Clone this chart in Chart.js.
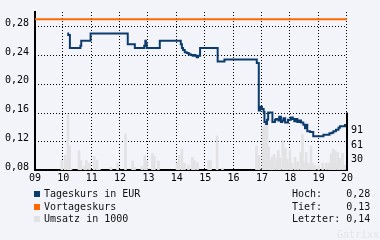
<!DOCTYPE html>
<html>
<head>
<meta charset="utf-8">
<script src="https://cdn.jsdelivr.net/npm/chart.js@4.4.1/dist/chart.umd.min.js"></script>
<style>
body { margin: 0; background: #f3f4f9; }
#wrap { position: relative; width: 380px; height: 240px; font-family: "DejaVu Sans Mono", monospace; font-size: 10px; color: #111; }
#c { position: absolute; left: 0; top: 0; }
.box { position: absolute; top: 188px; line-height: 12.7px; white-space: pre; }
#legend { left: 34px; }
#legend i { display: inline-block; width: 6px; height: 6px; margin-right: 4px; vertical-align: 0px; }
#stats { left: 292px; }
#mark { position: absolute; left: 337px; top: 229px; color: #e2e4ec; }
</style>
</head>
<body>
<div id="wrap">
  <canvas id="c" width="380" height="240"></canvas>
  <div class="box" id="legend"></div>
  <div class="box" id="stats"></div>
  <div id="mark">Gatrixx</div>
</div>
<script>
// x axis: hours of the trading day
const hourTicks = [9, 10, 11, 12, 13, 14, 15, 16, 17, 18, 19, 20];
const hourLabels = ['09', '10', '11', '12', '13', '14', '15', '16', '17', '18', '19', '20'];
const priceTicks = [0.08, 0.10, 0.12, 0.14, 0.16, 0.18, 0.20, 0.22, 0.24, 0.26, 0.28, 0.30];
const volTicks = [30.4, 60.7, 91.1];

// Tageskurs (time in hours, price in EUR)
const priceTimes = [10.14, 10.17, 10.23, 10.60, 10.63, 10.96, 12.27, 12.52, 12.85, 12.89, 12.91, 12.94, 13.40,
  14.14, 14.18, 14.22, 14.28, 14.35, 14.42, 14.49, 14.56, 14.61, 14.65, 14.70, 14.75, 14.82, 15.44, 15.68,
  16.82, 16.89, 16.93, 17.00, 17.06, 17.09, 17.15, 17.18, 17.22, 17.37, 17.46, 17.50, 17.58, 17.61, 17.67,
  17.72, 17.76, 17.82, 17.92, 18.02, 18.09, 18.14, 18.19, 18.25, 18.32, 18.38, 18.46, 18.52, 18.56, 18.60,
  18.70, 18.81, 19.17, 19.38, 19.46, 19.52, 19.61, 19.70, 19.75, 19.93];
const priceValues = [0.270, 0.268, 0.250, 0.253, 0.260, 0.270, 0.255, 0.250, 0.253, 0.260, 0.255, 0.250, 0.260,
  0.255, 0.250, 0.247, 0.244, 0.243, 0.241, 0.240, 0.239, 0.240, 0.239, 0.237, 0.239, 0.250, 0.231, 0.234,
  0.229, 0.163, 0.168, 0.165, 0.161, 0.147, 0.144, 0.150, 0.160, 0.147, 0.150, 0.151, 0.149, 0.154, 0.147,
  0.149, 0.152, 0.146, 0.150, 0.153, 0.151, 0.148, 0.151, 0.147, 0.149, 0.146, 0.143, 0.138, 0.143, 0.134,
  0.133, 0.127, 0.129, 0.131, 0.132, 0.134, 0.136, 0.139, 0.141, 0.144];

// Vortageskurs
const prevClose = 0.29;

// Umsatz in 1000
const volTimes = [9.95, 10.07, 10.16, 10.22, 10.27, 10.55, 10.62, 10.75, 10.81, 10.92, 11.09, 11.19, 11.27, 11.68,
  11.91, 12.19, 12.44, 12.51, 12.77, 12.87, 12.93, 13.14, 13.21, 13.35, 14.01, 14.08, 14.18, 14.27, 14.41,
  14.55, 14.62, 14.73, 15.12, 15.19, 15.42, 15.61, 16.81, 16.90, 17.04, 17.11, 17.18, 17.24, 17.29, 17.36,
  17.43, 17.52, 17.58, 17.64, 17.74, 17.83, 17.90, 17.99, 18.06, 18.17, 18.26, 18.37, 18.43, 18.50, 18.56,
  18.64, 18.73, 18.80, 18.87, 19.00, 19.14, 19.26, 19.35, 19.44, 19.51, 19.58, 19.67, 19.74, 19.84, 19.91];
const volValues = [20, 31, 117, 51, 4, 41, 20, 8, 20, 14, 29, 21, 2, 6,
  15, 76, 19, 6, 8, 30, 20, 35, 29, 19, 15, 31, 45, 14, 10,
  27, 20, 16, 20, 20, 72, 4, 51, 31, 90, 104, 96, 49, 20, 27,
  33, 25, 41, 25, 63, 46, 23, 42, 15, 27, 17, 37, 75, 17, 37,
  14, 51, 14, 10, 10, 15, 14, 14, 34, 44, 41, 37, 25, 35, 10];

const stats = [['Hoch:', '0,28'], ['Tief:', '0,13'], ['Letzter:', '0,14']];

const fmt = v => v.toFixed(2).replace('.', ',');
const FONT = { family: 'DejaVu Sans Mono', size: 10 };

// dotted grid (1px dots, 2px gaps) drawn from the scales' ticks
const dottedGrid = {
    id: 'dottedGrid',
    beforeDatasetsDraw(chart) {
        const ctx = chart.ctx, a = chart.chartArea;
        ctx.save();
        ctx.strokeStyle = '#000';
        ctx.lineWidth = 1;
        ctx.setLineDash([1, 2]);
        ctx.beginPath();
        chart.scales.x.ticks.forEach((t, i) => {
            if (i === 0) return;
            const x = Math.round(chart.scales.x.getPixelForValue(t.value)) - 0.5;
            ctx.moveTo(x, a.top);
            ctx.lineTo(x, a.bottom);
        });
        chart.scales.y.ticks.forEach((t, i) => {
            if (i === 0) return;
            const y = Math.round(chart.scales.y.getPixelForValue(t.value)) + 0.5;
            ctx.moveTo(a.left, y);
            ctx.lineTo(a.right, y);
        });
        ctx.stroke();
        ctx.restore();
    },
    // short black axis line for the volume scale
    afterDraw(chart) {
        const ctx = chart.ctx, vol = chart.scales.vol, a = chart.chartArea;
        ctx.save();
        ctx.strokeStyle = '#000';
        ctx.lineWidth = 2;
        ctx.beginPath();
        ctx.moveTo(a.right, vol.getPixelForValue(volTicks[2] + 30.4));
        ctx.lineTo(a.right, a.bottom + 1);
        ctx.stroke();
        ctx.restore();
    }
};

const chart = new Chart(document.getElementById('c'), {
    type: 'line',
    data: {
        datasets: [{
            label: 'Tageskurs in EUR',
            data: priceTimes.map((t, i) => ({ x: t, y: priceValues[i] })),
            borderColor: '#0b3c6d',
            backgroundColor: '#0b3c6d',
            borderWidth: 2,
            stepped: true,
            pointRadius: 0,
            yAxisID: 'y',
            order: 0
        }, {
            label: 'Vortageskurs',
            data: [{ x: hourTicks[0], y: prevClose }, { x: hourTicks[hourTicks.length - 1], y: prevClose }],
            borderColor: '#ff6a00',
            backgroundColor: '#ff6a00',
            borderWidth: 2,
            pointRadius: 0,
            yAxisID: 'y',
            order: 1
        }, {
            type: 'bar',
            label: 'Umsatz in 1000',
            data: volTimes.map((t, i) => ({ x: t, y: volValues[i] })),
            backgroundColor: '#e2e2e4',
            barThickness: 2,
            yAxisID: 'vol',
            order: 2
        }]
    },
    options: {
        responsive: false,
        animation: false,
        layout: { padding: { top: 7, left: 0, right: 0, bottom: 0 } },
        plugins: { legend: { display: false }, tooltip: { enabled: false } },
        scales: {
            x: {
                type: 'linear',
                min: 9, max: 20,
                offset: false,
                afterBuildTicks: s => { s.ticks = hourTicks.map(v => ({ value: v })); },
                afterFit: s => { s.height = 70; },
                grid: { display: false, drawTicks: false, offset: false },
                border: { display: true, color: '#000', width: 2 },
                ticks: { color: '#000', font: FONT, padding: 2, maxRotation: 0, autoSkip: false,
                    callback: v => hourLabels[hourTicks.indexOf(v)] }
            },
            y: {
                position: 'left',
                min: 0.08, max: 0.30,
                afterBuildTicks: s => { s.ticks = priceTicks.map(v => ({ value: v })); },
                afterFit: s => { s.width = 35; },
                grid: { display: false, drawTicks: false },
                border: { display: true, color: '#000', width: 2 },
                ticks: { color: '#000', font: FONT, padding: 6, labelOffset: -3,
                    callback: v => v >= 0.299 ? '' : fmt(v) }
            },
            vol: {
                position: 'right',
                min: 0, max: 334,
                afterBuildTicks: s => { s.ticks = volTicks.map(v => ({ value: v })); },
                afterFit: s => { s.width = 33; },
                grid: { display: false, drawTicks: false },
                border: { display: false },
                ticks: { color: '#000', font: FONT, padding: 4, labelOffset: 4,
                    callback: v => String(Math.round(v)) }
            }
        }
    },
    plugins: [dottedGrid]
});

// legend and summary box as text
document.getElementById('legend').innerHTML = chart.data.datasets
    .map(d => '<div><i style="background:' + d.backgroundColor + '"></i>' + d.label + '</div>').join('');
document.getElementById('stats').innerHTML = stats
    .map(r => '<div>' + r[0].padEnd(9, ' ') + r[1] + '</div>').join('');
</script>
</body>
</html>
